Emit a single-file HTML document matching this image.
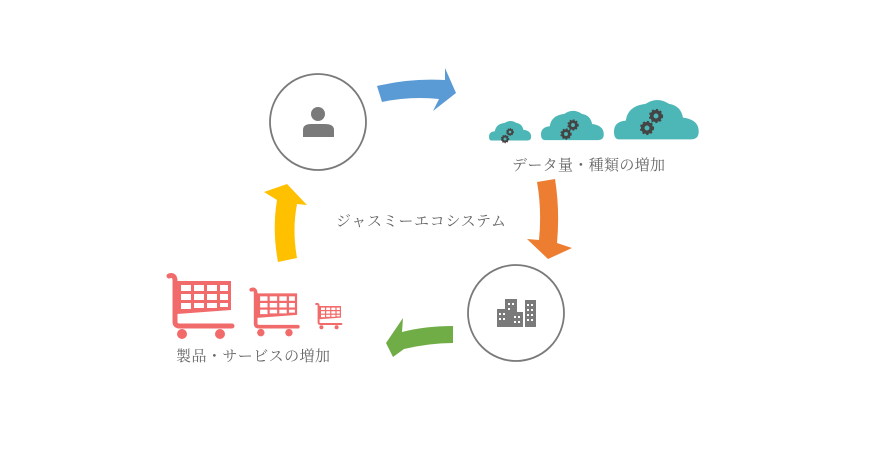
<!DOCTYPE html>
<html><head><meta charset="utf-8"><style>
html,body{margin:0;padding:0;background:#fff;}
svg{display:block}
text{font-family:"Liberation Serif","Noto Serif CJK SC","Noto Sans CJK JP",serif;fill:#666;font-size:15px}
</style></head><body>
<svg width="874" height="464" viewBox="0 0 874 464">
<defs>
<g id="cart">
<path d="M3,5 Q9,3 9,10 L9,51 Q9,55 14,55 L66,55" fill="none" stroke="#f26b6b" stroke-width="5" stroke-linecap="round"/>
<path d="M11,10 L65,10 L65,39 L11,43 Z" fill="#f26b6b"/>
<g fill="#fff">
<rect x="15" y="14" width="10" height="6"/><rect x="28" y="14" width="10" height="6"/><rect x="41" y="14" width="10" height="6"/><rect x="54" y="14" width="8" height="6"/>
<rect x="15" y="23" width="10" height="6"/><rect x="28" y="23" width="10" height="6"/><rect x="41" y="23" width="10" height="6"/><rect x="54" y="23" width="8" height="6"/>
<rect x="15" y="32" width="10" height="6"/><rect x="28" y="32" width="10" height="5"/><rect x="41" y="32" width="10" height="5"/><rect x="54" y="32" width="8" height="4"/>
</g>
<circle cx="16" cy="63" r="5" fill="#f26b6b"/><circle cx="54" cy="63" r="5" fill="#f26b6b"/>
</g>
<g id="gear"><circle r="4.2" fill="none" stroke="#444" stroke-width="3.5"/><circle r="6" fill="none" stroke="#444" stroke-width="2.2" stroke-dasharray="2 2"/></g>
<g id="cloud"><path d="M5,44 Q0,44 0,36 Q0,26 12,25 Q14,10 32,8 Q44,0 56,8 Q68,10 70,22 Q86,24 86,36 Q86,44 78,44 Z" fill="#4db6b6"/></g>
</defs>

<!-- circles -->
<circle cx="318" cy="122" r="48" fill="#fff" stroke="#7a7a7a" stroke-width="1.8"/>
<circle cx="516" cy="313" r="48" fill="#fff" stroke="#7a7a7a" stroke-width="1.8"/>
<!-- person -->
<circle cx="318" cy="114" r="7" fill="#7a7a7a"/>
<path d="M303,137 L303,130 Q303,124 311,124 L325,124 Q334,124 334,130 L334,137 Z" fill="#7a7a7a"/>
<!-- buildings -->
<g fill="#7a7a7a">
<rect x="497" y="309" width="11" height="18"/><rect x="505" y="299" width="12" height="28"/><rect x="511" y="312" width="12" height="15"/><rect x="525" y="300" width="11" height="27"/>
</g>
<g fill="#fff">
<rect x="499" y="313" width="2" height="2"/><rect x="503" y="313" width="2" height="2"/><rect x="499" y="318" width="2" height="2"/><rect x="503" y="318" width="2" height="2"/>
<rect x="508" y="303" width="2" height="2"/><rect x="512" y="303" width="2" height="2"/><rect x="508" y="308" width="2" height="2"/>
<rect x="514" y="316" width="2" height="2"/><rect x="518" y="316" width="2" height="2"/><rect x="514" y="321" width="2" height="2"/><rect x="518" y="321" width="2" height="2"/>
<rect x="527" y="304" width="2" height="2"/><rect x="531" y="304" width="2" height="2"/><rect x="527" y="309" width="2" height="2"/><rect x="531" y="309" width="2" height="2"/><rect x="527" y="314" width="2" height="2"/><rect x="531" y="314" width="2" height="2"/><rect x="527" y="319" width="2" height="2"/><rect x="531" y="319" width="2" height="2"/>
</g>

<!-- arrows -->
<path d="M377,86 Q410,78 445,80 L445,68 L456,93 L433,111 L439,99 Q410,96 382,102 Z" fill="#5b9bd5"/>
<path d="M537,182 Q542,210 539,240 L527,239 L548,259 L572,248 L557,243 Q560,210 555,179 Z" fill="#ed7d31"/>
<path d="M453,326 Q425,326 402,332 L403,318 L386,343 L393,357 L404,349 Q430,343 453,343 Z" fill="#70ad47"/>
<path d="M278,262 Q272,230 277,200 L264,192 L287,184 L307,205 L297,204 Q292,230 297,258 Z" fill="#ffc000"/>

<!-- clouds -->
<use href="#cloud" transform="translate(489,119) scale(0.49)"/>
<use href="#cloud" transform="translate(541,108) scale(0.73)"/>
<use href="#cloud" transform="translate(614,96) scale(0.985)"/>
<use href="#gear" transform="translate(505,139) scale(0.6)"/>
<use href="#gear" transform="translate(510,132) scale(0.55)"/>
<use href="#gear" transform="translate(566,134) scale(0.8)"/>
<use href="#gear" transform="translate(573,125) scale(0.8)"/>
<use href="#gear" transform="translate(647,128) scale(1)"/>
<use href="#gear" transform="translate(656,116) scale(1)"/>

<!-- carts -->
<use href="#cart" transform="translate(166,271)"/>
<use href="#cart" transform="translate(249,286) scale(0.74)"/>
<use href="#cart" transform="translate(315,302) scale(0.4)"/>

<!-- labels -->
<text x="512" y="170" textLength="153">データ量・種類の増加</text>
<text x="336" y="226" textLength="170">ジャスミーエコシステム</text>
<text x="176" y="361" textLength="154">製品・サービスの増加</text>
</svg>
</body></html>
